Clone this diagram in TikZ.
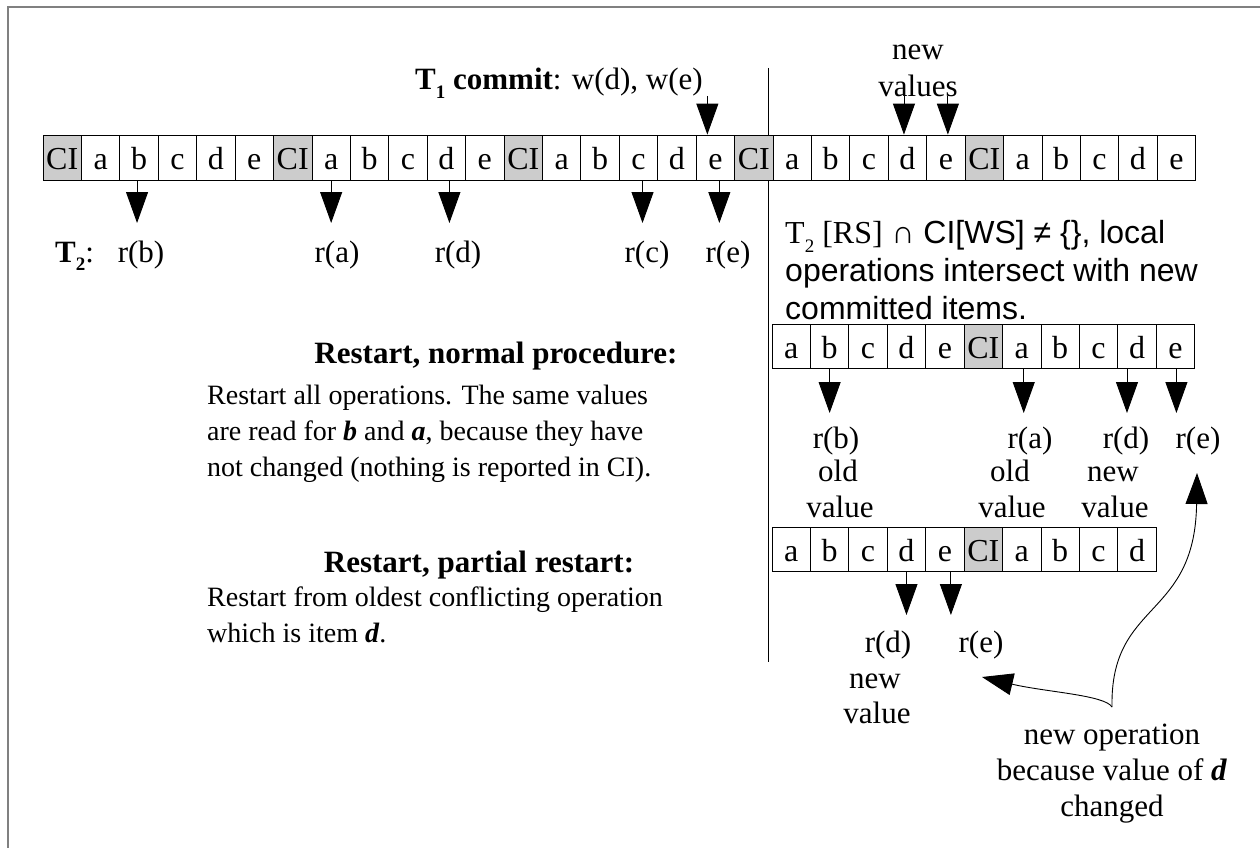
\documentclass[tikz,border=0pt]{standalone}
\usepackage{fontspec}
\setmainfont{Liberation Serif}
\newfontfamily\sansf{Liberation Sans}
\usetikzlibrary{arrows.meta}
\definecolor{cigray}{HTML}{CCCCCC}
\definecolor{framegray}{HTML}{808080}
\newcommand\lblfont{\fontsize{31}{36}\selectfont}
\newcommand\parafont{\fontsize{28}{36}\selectfont}
\newcommand\cellfont{\fontsize{32}{36}\selectfont}
\newcommand\mysub[1]{\raisebox{-0.28em}{\fontsize{19}{19}\selectfont #1}}
\begin{document}
\begin{tikzpicture}[x=1pt,y=-1pt,
  cell/.style={draw=black,line width=0.8pt,minimum width=38.42pt,minimum height=44pt,inner sep=0pt,text height=24pt,text depth=0pt,font=\cellfont},
  ci/.style={fill=cigray},
  plain/.style={},
  arr/.style={line width=0.9pt,-{Triangle[length=31pt,width=22pt]}},
  lbl/.style={inner sep=0pt,anchor=base,font=\lblfont},
  para/.style={inner sep=0pt,anchor=west,align=left,font=\parafont}]
\useasboundingbox (0,0) rectangle (1260,848);
\fill[white] (0,0) rectangle (1260,848);
% frame
\draw[framegray,line width=1.5pt] (8,848) -- (8,7) -- (1260,7);
% divider
\coordinate (vtop) at (768.5,68);
\coordinate (vbot) at (768.5,662);
\draw[line width=0.9pt] (vtop) -- (vbot);
\def\ciword{CI}
% strip 1
\foreach \k in {0,...,4}{
  \foreach \l [count=\j from 0] in {CI,a,b,c,d,e}{
    \pgfmathtruncatemacro\n{6*\k+\j}
    \ifnum\j=0 \def\st{ci}\else\def\st{plain}\fi
    \node[cell,minimum height=45pt,\st] (t\n) at ({43+(\n+0.5)*38.42},157.5) {\l};
  }
}
% strip 2
\foreach \l [count=\j from 0] in {a,b,c,d,e,CI,a,b,c,d,e}{
  \edef\cur{\l}
  \ifx\cur\ciword \def\st{ci}\else\def\st{plain}\fi
  \node[cell,\st] (m\j) at ({772+(\j+0.5)*38.42},346) {\l};
}
% strip 3
\foreach \l [count=\j from 0] in {a,b,c,d,e,CI,a,b,c,d}{
  \edef\cur{\l}
  \ifx\cur\ciword \def\st{ci}\else\def\st{plain}\fi
  \node[cell,\st] (l\j) at ({772+(\j+0.5)*38.42},549) {\l};
}
% top texts
\node[lbl,anchor=base west] (T1) at (415,90) {\textbf{T\mysub{1} commit}: w(d), w(e)};
\node[lbl] (nv) at (918,60) {new};
\node[lbl] (vals) at (918,97) {values};
% row-1 labels
\node[lbl,anchor=base west] (T2) at (55,262) {\textbf{T\mysub{2}}:};
\node[lbl] (rb1) at (141,262) {r(b)};
\node[lbl] (ra1) at (337,262) {r(a)};
\node[lbl] (rd1) at (458,262) {r(d)};
\node[lbl] (rc1) at (647,262) {r(c)};
\node[lbl] (re1) at (728,262) {r(e)};
% arrows strip 1
\coordinate (r0) at (0,96);
\coordinate (r1) at (0,223);
\coordinate (r2) at (0,413);
\coordinate (r3) at (0,615);
\path ([xshift=-8pt]t17.north) coordinate (w1e);
\path ([xshift=-3.5pt]t22.north) coordinate (w2e);
\path ([xshift=2pt]t23.north) coordinate (w3e);
\draw[arr] (w1e |- r0) -- (w1e);
\draw[arr] (w2e |- r0) -- (w2e);
\draw[arr] (w3e |- r0) -- (w3e);
\path ([xshift=-2pt]t2.south) coordinate (s2);
\path (t7.south) coordinate (s7);
\path ([xshift=3pt]t10.south) coordinate (s10);
\path ([xshift=4pt]t15.south) coordinate (s15);
\path ([xshift=4pt]t17.south) coordinate (s17);
\foreach \c in {s2,s7,s10,s15,s17}{\draw[arr] (\c) -- (\c |- r1);}
% right text
\node[inner sep=0pt,anchor=west,align=left,font={\sansf\fontsize{32}{38}\selectfont}] (cond) at (785,270)
  {{\rmfamily T\mysub{2} [RS]} ∩ CI[WS] ≠ \{\}, local\\operations intersect with new\\committed items.};
% arrows strip 2
\path (m1.south) coordinate (u1);
\path ([xshift=2pt]m6.south) coordinate (u6);
\path ([xshift=-10pt]m9.south) coordinate (u9);
\path ([xshift=1pt]m10.south) coordinate (u10);
\foreach \c in {u1,u6,u9,u10}{\draw[arr] (\c) -- (\c |- r2);}
\node[lbl] (rb2) at (836,448) {r(b)};
\node[lbl] (ra2) at (1030,448) {r(a)};
\node[lbl] (rd2) at (1126,448) {r(d)};
\node[lbl] (re2) at (1198,448) {r(e)};
\node[lbl] (ob2) at (838,481) {old};
\node[lbl] (oa2) at (1010,481) {old};
\node[lbl] (nd2) at (1113,481) {new};
\node[lbl] (vb2) at (840,517) {value};
\node[lbl] (va2) at (1012,517) {value};
\node[lbl] (vd2) at (1115,517) {value};
% arrows strip 3
\path (l3.south) coordinate (v3);
\path ([xshift=6pt]l4.south) coordinate (v4);
\foreach \c in {v3,v4}{\draw[arr] (\c) -- (\c |- r3);}
\node[lbl] (rd3) at (888,652) {r(d)};
\node[lbl] (re3) at (981,652) {r(e)};
\node[lbl] (nd3) at (875,688) {new};
\node[lbl] (vd3) at (877,723) {value};
% headings and paragraphs
\node[lbl,font=\lblfont\bfseries] (h1) at (496,363) {Restart, normal procedure:};
\node[para] (p1) at (207,434) {Restart all operations. The same values\\are read for \textbf{\textit{b}} and \textbf{\textit{a}}, because they have\\not changed (nothing is reported in CI).};
\node[lbl,font=\lblfont\bfseries] (h2) at (479,572) {Restart, partial restart:};
\node[para] (p2) at (207,615) {Restart from oldest conflicting operation\\which is item \textbf{\textit{d}}.};
% new operation
\node[inner sep=0pt,align=center,font=\lblfont] (newop) at (1112,774) {new operation\\because value of \textbf{\textit{d}}\\changed};
\coordinate (split) at (1112,707);
\coordinate (tipA) at (1197,473);
\coordinate (tipB) at (982,677);
\draw[arr] (split) .. controls (1110,600) and (1195,620) .. (tipA);
\draw[arr] (split) .. controls (1105,695) and (1045,692) .. (tipB);
\end{tikzpicture}
\end{document}
